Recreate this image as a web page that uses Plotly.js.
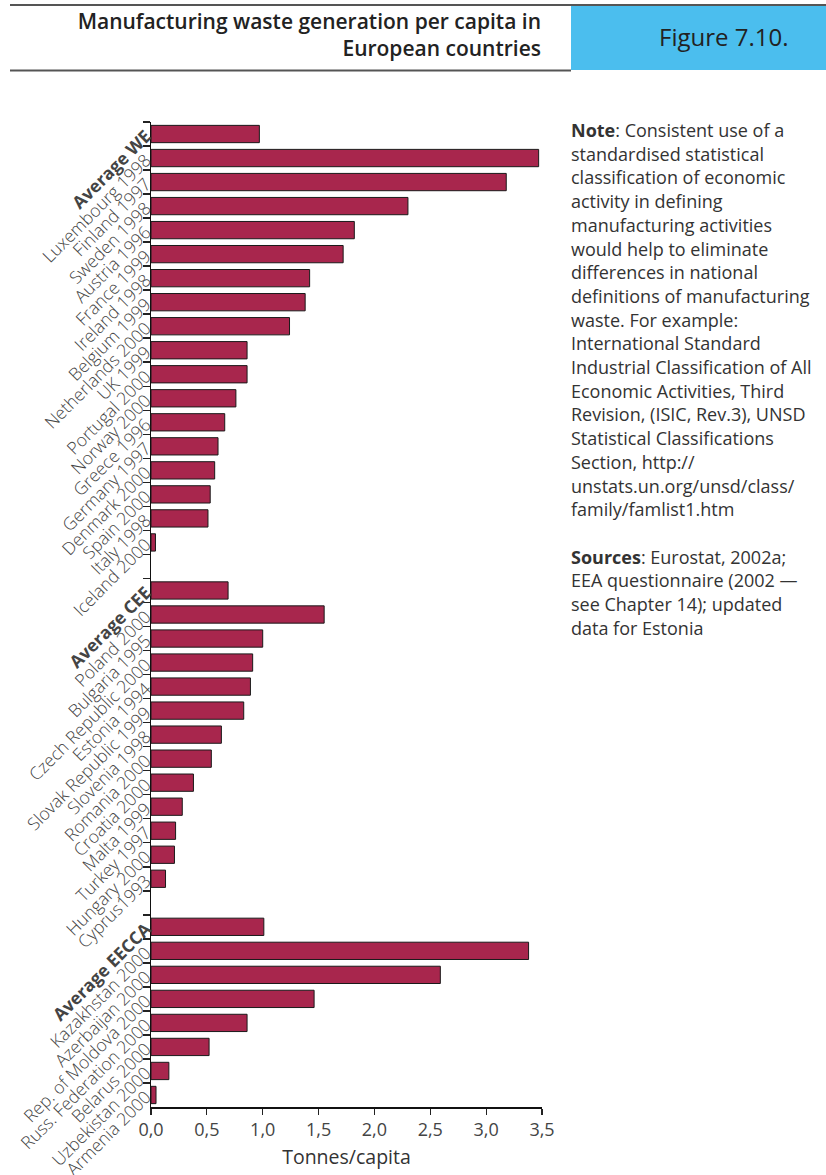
<!DOCTYPE html>
<html>
<head>
<meta charset="utf-8">
<script src="https://cdn.plot.ly/plotly-3.0.1.min.js"></script>
<style>
html,body{margin:0;padding:0;background:#fff;}
#chart{width:826px;height:1175px;}
</style>
</head>
<body>
<div id="chart"></div>
<script>
// ---- Data (top to bottom) ----
const categories = [
  "<b>Average WE</b>", "Luxembourg 1998", "Finland 1997", "Sweden 1998", "Austria 1996",
  "France 1999", "Ireland 1998", "Belgium 1999", "Netherlands 2000", "UK 1999",
  "Portugal 2000", "Norway 2000", "Greece 1996", "Germany 1997", "Denmark 2000",
  "Spain 2000", "Italy 1998", "Iceland 2000",
  "\u200b",
  "<b>Average CEE</b>", "Poland 2000", "Bulgaria 1995", "Czech Republic 2000", "Estonia 1994",
  "Slovak Republic 1999", "Slovenia 1998", "Romania 2000", "Croatia 2000", "Malta 1999",
  "Turkey 1997", "Hungary 2000", "Cyprus1993",
  "\u200b\u200b",
  "<b>Average EECCA</b>", "Kazakhstan 2000", "Azerbaijan 2000", "Rep. of Moldova 2000",
  "Russ. Federation 2000", "Belarus 2000", "Uzbekistan 2000", "Armenia 2000"
];
const values = [
  0.97, 3.47, 3.18, 2.30, 1.82,
  1.72, 1.42, 1.38, 1.24, 0.86,
  0.86, 0.76, 0.66, 0.60, 0.57,
  0.53, 0.51, 0.04,
  null,
  0.69, 1.55, 1.00, 0.91, 0.89,
  0.83, 0.63, 0.54, 0.38, 0.28,
  0.22, 0.21, 0.13,
  null,
  1.01, 3.38, 2.59, 1.46,
  0.86, 0.52, 0.16, 0.045
];
const xTicks = [0, 0.5, 1, 1.5, 2, 2.5, 3, 3.5];

const noteLines = [
  "<b>Note</b>: Consistent use of a",
  "standardised statistical",
  "classification of economic",
  "activity in defining",
  "manufacturing activities",
  "would help to eliminate",
  "differences in national",
  "definitions of manufacturing",
  "waste. For example:",
  "International Standard",
  "Industrial Classification of All",
  "Economic Activities, Third",
  "Revision, (ISIC, Rev.3), UNSD",
  "Statistical Classifications",
  "Section, http://",
  "unstats.un.org/unsd/class/",
  "family/famlist1.htm",
  "",
  "<b>Sources</b>: Eurostat, 2002a;",
  "EEA questionnaire (2002 \u2014",
  "see Chapter 14); updated",
  "data for Estonia"
];

// ---- Layout geometry (pixels) ----
const W = 826, H = 1175;
const L = 151, R = 542, T = 122, B = 1107;
const px2x = p => (p - L) / (R - L);
const px2y = p => (B - p) / (B - T);
const FONT = "Open Sans, Noto Sans, sans-serif";

const annotations = [];
noteLines.forEach((t, i) => {
  if (!t) return;
  annotations.push({
    xref: "paper", yref: "paper",
    x: px2x(569), y: px2y(130 + i * 23.7),
    xanchor: "left", yanchor: "middle",
    text: t, showarrow: false, align: "left",
    font: {family: FONT, size: 18, color: "#333"}
  });
});
annotations.push({
  xref: "paper", yref: "paper",
  x: px2x(724), y: px2y(36),
  xanchor: "center", yanchor: "middle",
  text: "Figure 7.10.", showarrow: false,
  font: {family: FONT, size: 24, color: "#222"}
});

const shapes = [
  {type: "rect", xref: "paper", yref: "paper",
   x0: px2x(571), x1: px2x(W + 2), y0: px2y(70), y1: px2y(6),
   fillcolor: "#4BBEEE", line: {width: 0}, layer: "below"},
  {type: "line", xref: "paper", yref: "paper",
   x0: px2x(10), x1: px2x(W + 2), y0: px2y(5), y1: px2y(5),
   line: {color: "#555", width: 2}},
  {type: "line", xref: "paper", yref: "paper",
   x0: px2x(10), x1: px2x(571), y0: px2y(70.5), y1: px2y(70.5),
   line: {color: "#555", width: 2}}
];

const trace = {
  type: "bar", orientation: "h",
  x: values, y: categories,
  marker: {color: "#A8264D", line: {color: "#1a1a1a", width: 1}},
  width: 0.72,
  hoverinfo: "x+y"
};

const layout = {
  width: W, height: H,
  paper_bgcolor: "#fff", plot_bgcolor: "#fff",
  margin: {l: L, r: W - R, t: T, b: H - B, pad: 0},
  separators: ", ",
  showlegend: false,
  title: {
    text: "Manufacturing waste generation per capita in<br>European countries",
    xref: "container", yref: "container",
    x: 541 / W, xanchor: "right",
    y: 1 - 29 / H, yanchor: "middle",
    font: {family: FONT, size: 21, color: "#222", weight: 600}
  },
  xaxis: {
    range: [0, 3.5], tickmode: "array", tickvals: xTicks,
    tickformat: ".1f",
    ticks: "outside", ticklen: 6, tickcolor: "#222", tickwidth: 1.2,
    showline: true, linecolor: "#111", linewidth: 1.5,
    showgrid: false, zeroline: false,
    tickfont: {family: FONT, size: 18, color: "#444"},
    title: {text: "Tonnes/capita", font: {family: FONT, size: 19.5, color: "#333"}, standoff: 10},
    automargin: false, fixedrange: true
  },
  yaxis: {
    type: "category", categoryorder: "array", categoryarray: categories,
    autorange: "reversed",
    ticks: "outside", tickson: "boundaries", ticklen: 7, tickcolor: "#222", tickwidth: 1.5,
    showline: true, linecolor: "#111", linewidth: 1.5,
    showgrid: false, zeroline: false,
    tickangle: -45,
    tickfont: {family: FONT, size: 17.5, color: "#444", weight: 300},
    automargin: false, fixedrange: true
  },
  shapes: shapes,
  annotations: annotations
};

Plotly.newPlot("chart", [trace], layout, {displayModeBar: false, staticPlot: true});
</script>
</body>
</html>
